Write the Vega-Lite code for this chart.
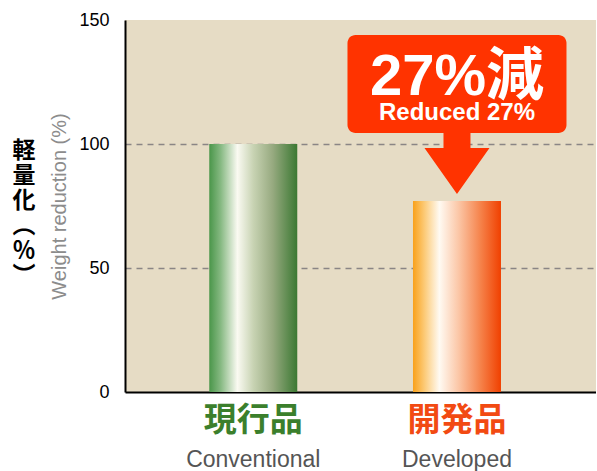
{
  "$schema": "https://vega.github.io/schema/vega-lite/v6.json",
  "width": 471,
  "height": 372,
  "padding": {"left": 12, "top": 11, "right": 0, "bottom": 0},
  "background": "white",
  "config": {
    "view": {"fill": "#e6dcc5", "stroke": null}
  },
  "title": {
    "text": ["軽", "量", "化", "︵", "％", "︶"],
    "orient": "left",
    "angle": 0,
    "align": "center",
    "baseline": "middle",
    "anchor": "middle",
    "font": "Noto Sans CJK JP",
    "fontSize": 23,
    "fontWeight": "bold",
    "lineHeight": 25,
    "color": "black",
    "offset": 3,
    "dy": -55
  },
  "data": {
    "values": [
      {"jp": "現行品", "en": "Conventional", "value": 100},
      {"jp": "開発品", "en": "Developed", "value": 77}
    ]
  },
  "resolve": {"scale": {"x": "independent"}, "axis": {"x": "independent"}},
  "layer": [
    {
      "encoding": {
        "x": {
          "field": "jp",
          "type": "nominal",
          "scale": {"domain": ["現行品", "開発品"], "paddingInner": 0.568, "paddingOuter": 0.44, "align": 0.47},
          "axis": {
            "orient": "bottom",
            "title": null,
            "labelAngle": 0,
            "ticks": false,
            "domain": true,
            "domainColor": "black",
            "domainWidth": 2,
            "labelFont": "Noto Sans CJK JP",
            "labelFontWeight": "bold",
            "labelFontSize": 33,
            "labelPadding": 12,
            "labelColor": {"condition": {"test": "datum.value === '現行品'", "value": "#3b7f2c"}, "value": "#f24a12"}
          }
        }
      },
      "layer": [
        {
          "transform": [{"filter": "datum.jp === '現行品'"}],
          "mark": {
            "type": "bar",
            "width": 88,
            "color": {
              "gradient": "linear", "x1": 0, "x2": 1, "y1": 0, "y2": 0,
              "stops": [
                {"offset": 0, "color": "#4a964a"},
                {"offset": 0.13, "color": "#86b982"},
                {"offset": 0.32, "color": "#fafaf2"},
                {"offset": 0.5, "color": "#c8d3b3"},
                {"offset": 0.72, "color": "#97aa80"},
                {"offset": 1, "color": "#3b7832"}
              ]
            }
          },
          "encoding": {
            "y": {
              "field": "value",
              "type": "quantitative",
              "title": "Weight reduction (%)",
              "scale": {"domain": [0, 150], "nice": false},
              "axis": {
                "values": [0, 50, 100, 150],
                "ticks": false,
                "domainColor": "black",
                "domainWidth": 2,
                "labelFont": "Liberation Sans",
                "labelFontSize": 18,
                "labelColor": "black",
                "labelPadding": 16,
                "gridDash": [6, 5],
                "gridColor": "#8a8585",
                "gridWidth": 1.5,
                "gridOpacity": {"condition": {"test": "datum.value === 50 || datum.value === 100", "value": 1}, "value": 0},
                "titleFont": "Liberation Sans",
                "titleFontSize": 20,
                "titleFontWeight": "normal",
                "titleColor": "#8c8c8c",
                "titlePadding": 9
              }
            }
          }
        },
        {
          "transform": [{"filter": "datum.jp === '開発品'"}],
          "mark": {
            "type": "bar",
            "width": 88,
            "color": {
              "gradient": "linear", "x1": 0, "x2": 1, "y1": 0, "y2": 0,
              "stops": [
                {"offset": 0, "color": "#f9a11b"},
                {"offset": 0.13, "color": "#fcca76"},
                {"offset": 0.3, "color": "#fffaf2"},
                {"offset": 0.52, "color": "#fbc6a6"},
                {"offset": 0.77, "color": "#f5824a"},
                {"offset": 1, "color": "#f04000"}
              ]
            }
          },
          "encoding": {
            "y": {"field": "value", "type": "quantitative", "title": "Weight reduction (%)"}
          }
        },
        {
          "transform": [{"filter": "datum.jp === '開発品'"}],
          "mark": {
            "type": "point",
            "filled": true,
            "opacity": 1,
            "color": "#ff3300",
            "strokeWidth": 0,
            "shape": "M-0.415,-1.1 L0.415,-1.1 L0.415,-0.477 L1,-0.477 L0,0.938 L-1,-0.477 L-0.415,-0.477 Z",
            "size": 4225
          },
          "encoding": {
            "y": {"datum": 92.1, "type": "quantitative", "title": "Weight reduction (%)"}
          }
        },
        {
          "transform": [{"filter": "datum.jp === '開発品'"}],
          "mark": {"type": "bar", "width": 219, "cornerRadius": 8, "color": "#ff3300"},
          "encoding": {
            "y": {"datum": 144, "type": "quantitative", "title": "Weight reduction (%)"},
            "y2": {"datum": 104.4}
          }
        },
        {
          "transform": [{"filter": "datum.jp === '開発品'"}],
          "mark": {
            "type": "text",
            "text": "27%減",
            "font": "Liberation Sans, Noto Sans CJK JP",
            "fontSize": 58,
            "fontWeight": "bold",
            "color": "white",
            "baseline": "alphabetic",
            "align": "center"
          },
          "encoding": {
            "y": {"datum": 119.8, "type": "quantitative", "title": "Weight reduction (%)"}
          }
        },
        {
          "transform": [{"filter": "datum.jp === '開発品'"}],
          "mark": {
            "type": "text",
            "text": "Reduced 27%",
            "font": "Liberation Sans",
            "fontSize": 24,
            "fontWeight": "bold",
            "color": "white",
            "baseline": "alphabetic",
            "align": "center"
          },
          "encoding": {
            "y": {"datum": 109.7, "type": "quantitative", "title": "Weight reduction (%)"}
          }
        }
      ]
    },
    {
      "mark": {"type": "bar", "opacity": 0},
      "encoding": {
        "x": {
          "field": "en",
          "type": "nominal",
          "scale": {"domain": ["Conventional", "Developed"], "paddingInner": 0.568, "paddingOuter": 0.44, "align": 0.47},
          "axis": {
            "orient": "bottom",
            "title": null,
            "labelAngle": 0,
            "ticks": false,
            "domain": false,
            "offset": 46,
            "labelPadding": 10,
            "labelFont": "Liberation Sans",
            "labelFontSize": 23,
            "labelColor": "#555555"
          }
        },
        "y": {"field": "value", "type": "quantitative", "title": "Weight reduction (%)"}
      }
    }
  ]
}
